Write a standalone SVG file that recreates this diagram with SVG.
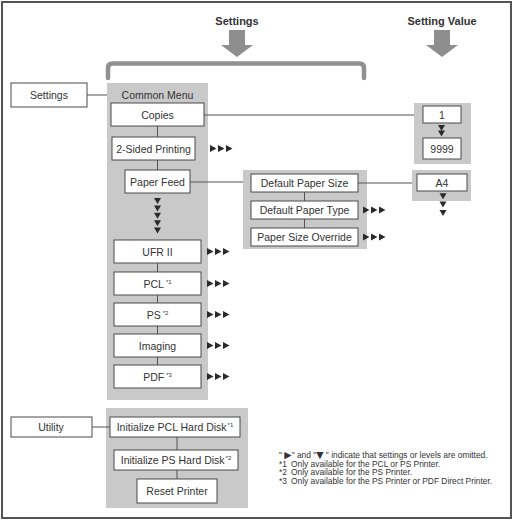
<svg xmlns="http://www.w3.org/2000/svg" width="514" height="523" viewBox="0 0 514 523">
<style>
.b{fill:#fff;stroke:#4a4a4a;stroke-width:1}
.p{fill:#c9c9c9}
.t{font-family:"Liberation Sans",Arial,sans-serif;font-size:10.5px;fill:#333;text-anchor:middle}
.c{stroke:#555;stroke-width:1;fill:none}
.a{fill:#2a2a2a}
.h{font-family:"Liberation Sans",Arial,sans-serif;font-size:11px;font-weight:bold;fill:#333;text-anchor:middle}
.f{font-family:"Liberation Sans",Arial,sans-serif;font-size:8.4px;fill:#333}
.s{font-size:6px}
.g{font-family:"DejaVu Sans",sans-serif;font-size:9.5px}
.big{fill:#8e8e8e}
</style>
<defs>
<path id="r3" d="M0,-3.5 L6.5,0 L0,3.5Z M8,-3.5 L14.5,0 L8,3.5Z M16,-3.5 L22.5,0 L16,3.5Z"/>
<path id="d1" d="M-3.5,0 H3.5 L0,6Z"/>
<path id="bigarrow" d="M-8,0 H8 V15 H16 L0,27 L-16,15 H-8Z"/>
</defs>
<rect x="2" y="2" width="509" height="516" fill="#fff" stroke="#555" stroke-width="2"/>

<g id="header">
<text class="h" x="237" y="25">Settings</text>
<text class="h" x="442" y="25">Setting Value</text>
<use href="#bigarrow" class="big" x="237" y="30"/>
<use href="#bigarrow" class="big" x="442" y="30"/>
<path d="M108,78 V68 Q108,63.5 112.5,63.5 H359.5 Q364,63.5 364,68 V78" fill="none" stroke="#909090" stroke-width="4.5" stroke-linecap="round"/>
</g>

<g id="panels">
<rect class="p" x="107" y="83" width="101" height="317"/>
<rect class="p" x="243" y="170" width="124" height="79"/>
<rect class="p" x="412" y="170" width="59" height="31"/>
<rect class="p" x="414" y="103" width="57" height="61"/>
<rect class="p" x="106" y="408" width="142" height="100"/>
<text class="t" x="157.5" y="99">Common Menu</text>
</g>

<g id="connectors">
<path class="c" d="M87,95 H107"/>
<path class="c" d="M204,115 H414"/>
<path class="c" d="M157.5,126 V137 M157.5,160 V170"/>
<path class="c" d="M190,182 H243"/>
<path class="c" d="M358,183 H412"/>
<path class="c" d="M304.5,192 V201 M304.5,219 V228"/>
<path class="c" d="M157.5,263 V272 M157.5,295 V303 M157.5,326 V334 M157.5,357 V365"/>
<path class="c" d="M92,427 H110"/>
<path class="c" d="M177,437 V450 M177,470 V479"/>
</g>

<g id="node-settings"><rect class="b" x="11" y="83" width="76" height="24"/><text class="t" x="49" y="99">Settings</text></g>
<g id="node-copies"><rect class="b" x="111" y="103" width="93" height="23"/><text class="t" x="157.5" y="118.5">Copies</text></g>
<g id="node-2sided"><rect class="b" x="112" y="137" width="83" height="23"/><text class="t" x="153.5" y="152.5">2-Sided Printing</text><use href="#r3" class="a" x="210" y="148.5"/></g>
<g id="node-paperfeed"><rect class="b" x="125" y="170" width="65" height="23"/><text class="t" x="157.5" y="185.5">Paper Feed</text>
<g class="a"><use href="#d1" x="157.5" y="198"/><use href="#d1" x="157.5" y="205.4"/><use href="#d1" x="157.5" y="212.8"/><use href="#d1" x="157.5" y="220.2"/><use href="#d1" x="157.5" y="227.6"/></g></g>
<g id="node-ufr"><rect class="b" x="114" y="240" width="87" height="23"/><text class="t" x="157.5" y="255.5">UFR II</text><use href="#r3" class="a" x="207" y="251.5"/></g>
<g id="node-pcl"><rect class="b" x="114" y="272" width="87" height="23"/><text class="t" x="157.5" y="287.5">PCL<tspan class="s" dx="2" dy="-4">*1</tspan></text><use href="#r3" class="a" x="207" y="283.5"/></g>
<g id="node-ps"><rect class="b" x="114" y="303" width="87" height="23"/><text class="t" x="157.5" y="318.5">PS<tspan class="s" dx="2" dy="-4">*2</tspan></text><use href="#r3" class="a" x="207" y="314.5"/></g>
<g id="node-imaging"><rect class="b" x="114" y="334" width="87" height="23"/><text class="t" x="157.5" y="349.5">Imaging</text><use href="#r3" class="a" x="207" y="345.5"/></g>
<g id="node-pdf"><rect class="b" x="114" y="365" width="87" height="23"/><text class="t" x="157.5" y="380.5">PDF<tspan class="s" dx="2" dy="-4">*3</tspan></text><use href="#r3" class="a" x="207" y="376.5"/></g>

<g id="node-dps"><rect class="b" x="251" y="174" width="107" height="18"/><text class="t" x="304.5" y="187">Default Paper Size</text></g>
<g id="node-dpt"><rect class="b" x="251" y="201" width="107" height="18"/><text class="t" x="304.5" y="214">Default Paper Type</text><use href="#r3" class="a" x="363" y="210"/></g>
<g id="node-pso"><rect class="b" x="251" y="228" width="107" height="18"/><text class="t" x="304.5" y="241">Paper Size Override</text><use href="#r3" class="a" x="363" y="237"/></g>

<g id="node-a4"><rect class="b" x="417" y="174" width="50" height="17"/><text class="t" x="442" y="186.5">A4</text>
<g class="a"><use href="#d1" x="443" y="193.3"/><use href="#d1" x="443" y="201.6"/><use href="#d1" x="443" y="209.9"/></g></g>
<g id="node-1"><rect class="b" x="423" y="106" width="38" height="17"/><text class="t" x="442" y="118.5">1</text>
<g class="a"><use href="#d1" x="441.5" y="125"/><use href="#d1" x="441.5" y="130.5"/></g></g>
<g id="node-9999"><rect class="b" x="423" y="138" width="38" height="21"/><text class="t" x="442" y="152.5">9999</text></g>

<g id="node-utility"><rect class="b" x="11" y="417" width="81" height="20"/><text class="t" x="51" y="431">Utility</text></g>
<g id="node-initpcl"><rect class="b" x="110" y="417" width="130" height="20"/><text class="t" x="175" y="431">Initialize PCL Hard Disk<tspan class="s" dx="1" dy="-4">*1</tspan></text></g>
<g id="node-initps"><rect class="b" x="114" y="450" width="124" height="20"/><text class="t" x="176" y="464">Initialize PS Hard Disk<tspan class="s" dx="1" dy="-4">*2</tspan></text></g>
<g id="node-reset"><rect class="b" x="137" y="479" width="80" height="24"/><text class="t" x="177" y="495">Reset Printer</text></g>

<g id="notes" class="f">
<text x="279" y="458">" <tspan class="g">▶</tspan>" and "<tspan class="g">▼</tspan> " indicate that settings or levels are omitted.</text>
<text x="279" y="466.5">*1<tspan x="291">Only available for the PCL or PS Printer.</tspan></text>
<text x="279" y="475">*2<tspan x="291">Only available for the PS Printer.</tspan></text>
<text x="279" y="483.5">*3<tspan x="291">Only available for the PS Printer or PDF Direct Printer.</tspan></text>
</g>
</svg>
